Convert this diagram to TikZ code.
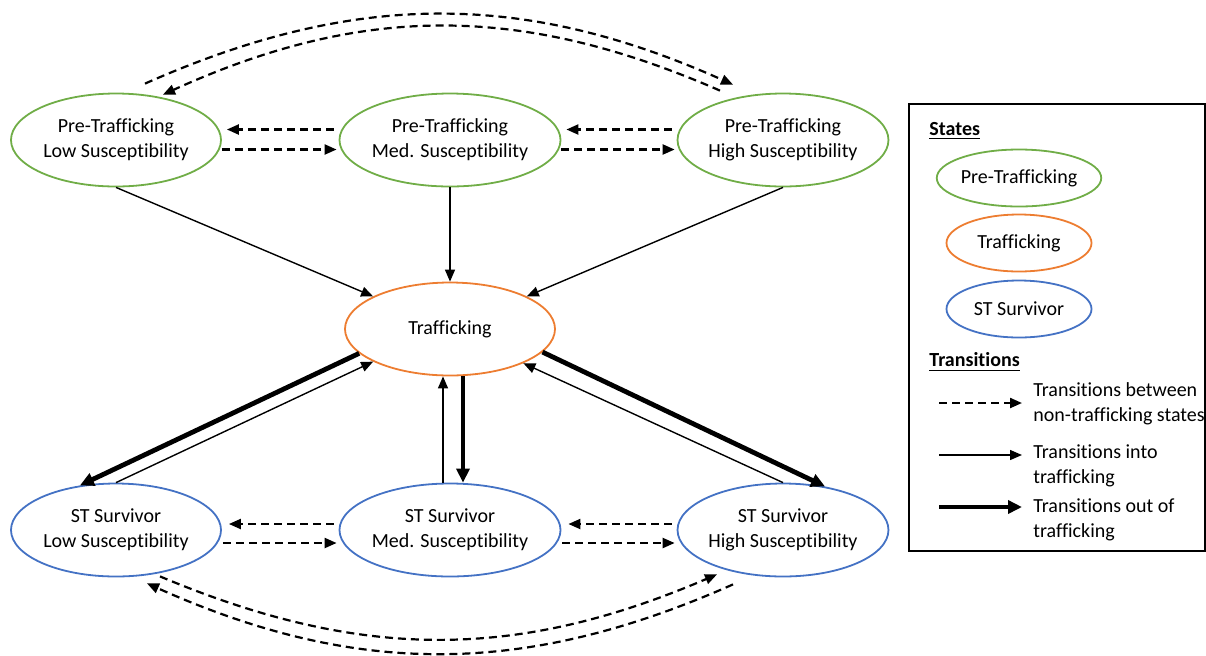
\documentclass[tikz,border=0pt]{standalone}
\usepackage{fontspec}
\setmainfont{Carlito}[Ligatures=NoCommon]
\usetikzlibrary{arrows.meta,shapes.geometric}
\definecolor{pregreen}{RGB}{112,173,71}
\definecolor{traforange}{RGB}{237,125,49}
\definecolor{survblue}{RGB}{68,114,196}
\tikzset{
  state/.style={ellipse, draw, line width=0.9pt, minimum width=105pt,
    minimum height=46.5pt, inner sep=0pt, align=center,
    font=\fontsize{10}{12.5}\selectfont},
  pre/.style={state, draw=pregreen},
  traf/.style={state, draw=traforange},
  surv/.style={state, draw=survblue},
  keystate/.style={minimum width=72.5pt, minimum height=28.5pt},
  keytext/.style={anchor=west, align=left, inner sep=0pt,
    font=\fontsize{10}{12.5}\selectfont},
  dasharrow/.style={line width=1.1pt, dash pattern=on 4pt off 2.5pt,
    -{Triangle[length=6pt,width=5pt]}},
  inarrow/.style={line width=0.7pt, -{Triangle[length=6pt,width=5pt]}},
  outarrow/.style={line width=2.4pt, -{Triangle[length=7pt,width=6.5pt]}},
}
\begin{document}
\begin{tikzpicture}[x=0.5pt,y=-0.5pt]
  \useasboundingbox (0,0) rectangle (1206,655);
  % states
  \node[pre] (pl) at (116,140) {Pre-Trafficking\\Low Susceptibility};
  \node[pre] (pm) at (450,140) {Pre-Trafficking\\Med. Susceptibility};
  \node[pre] (ph) at (783,140) {Pre-Trafficking\\High Susceptibility};
  \node[traf] (tr) at (450,329) {Trafficking};
  \node[surv] (sl) at (116,530) {ST Survivor\\Low Susceptibility};
  \node[surv] (sm) at (450,530) {ST Survivor\\Med. Susceptibility};
  \node[surv] (sh) at (783,530) {ST Survivor\\High Susceptibility};
  % pre-trafficking row
  \draw[dasharrow] ([shift={(-5,-10.5)}]pm.west) -- ([shift={(5,-10.5)}]pl.east);
  \draw[dasharrow] ([shift={(0,9.5)}]pl.east) -- ([shift={(-2,9.5)}]pm.west);
  \draw[dasharrow] ([shift={(-5,-10.5)}]ph.west) -- ([shift={(5,-10.5)}]pm.east);
  \draw[dasharrow] ([shift={(0,9.5)}]pm.east) -- ([shift={(-2,9.5)}]ph.west);
  \draw[dasharrow] ([shift={(29,-9)}]pl.north) to[bend left=24] ([shift={(-50,-8)}]ph.north);
  \draw[dasharrow] ([shift={(-63,-2)}]ph.north) to[bend right=24] ([shift={(47,2)}]pl.north);
  % into trafficking
  \draw[inarrow] (pl.south) -- (tr);
  \draw[inarrow] (pm.south) -- (tr.north);
  \draw[inarrow] (ph.south) -- (tr);
  % survivor row
  \draw[dasharrow] ([shift={(-5,-6)}]sm.west) -- ([shift={(7,-6)}]sl.east);
  \draw[dasharrow] ([shift={(1,13)}]sl.east) -- ([shift={(-2,13)}]sm.west);
  \draw[dasharrow] ([shift={(-5,-6)}]sh.west) -- ([shift={(7,-6)}]sm.east);
  \draw[dasharrow] ([shift={(1,13)}]sm.east) -- ([shift={(-2,13)}]sh.west);
  \draw[dasharrow] ([shift={(44,-1)}]sl.south) to[bend right=23] ([shift={(-66,-3)}]sh.south);
  \draw[dasharrow] ([shift={(-50,7)}]sh.south) to[bend left=24] ([shift={(31,6)}]sl.south);
  % out of and back into trafficking
  \draw[outarrow] (tr.195) -- (sl.129.6);
  \draw[inarrow] (sl.north) -- (tr.203.8);
  \draw[outarrow] ([xshift=6.5pt]tr.south) -- ([xshift=6.5pt]sm.north);
  \draw[inarrow] ([xshift=-3.5pt]sm.north) -- ([xshift=-3.5pt]tr.south);
  \draw[outarrow] (tr.346.1) -- (sh.46.3);
  \draw[inarrow] (sh.north) -- (tr.335.8);
  % key
  \draw[line width=1pt] (909,104) rectangle (1205,551);
  \node[keytext] (kstates) at (929,131) {\underline{\textbf{States}}};
  \node[pre, keystate] (kpre) at (1019,178) {Pre-Trafficking};
  \node[traf, keystate] (ktraf) at (1019,243) {Trafficking};
  \node[surv, keystate] (ksurv) at (1019,309) {ST Survivor};
  \node[keytext] (ktrans) at (929,362) {\underline{\textbf{Transitions}}};
  \node[keytext] (kdashtxt) at (1033,403.5) {Transitions between\\non-trafficking states};
  \node[keytext] (kintxt) at (1033,466) {Transitions into\\trafficking};
  \node[keytext] (kouttxt) at (1033,519.5) {Transitions out of\\trafficking};
  \coordinate (kdash) at (939,403);
  \coordinate (kin) at (939,455);
  \coordinate (kout) at (939,507);
  \draw[dasharrow] (kdash) -- ([xshift=-5.5pt]kdash -| kdashtxt.west);
  \draw[inarrow] (kin) -- ([xshift=-5.5pt]kin -| kintxt.west);
  \draw[outarrow] (kout) -- ([xshift=-5.5pt]kout -| kouttxt.west);
\end{tikzpicture}
\end{document}
